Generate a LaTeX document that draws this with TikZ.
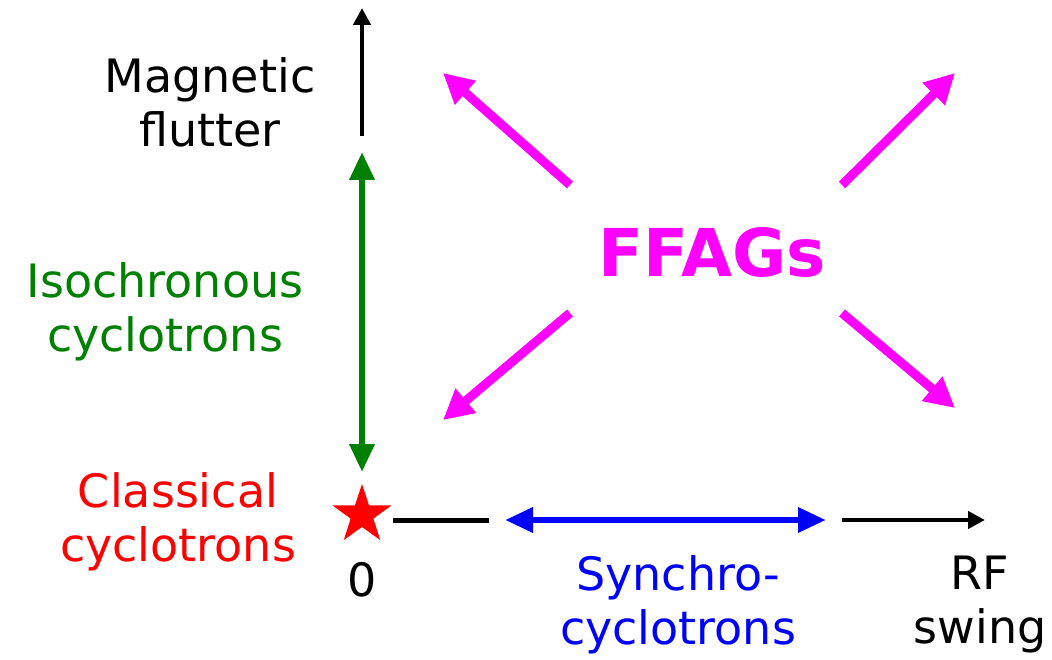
\documentclass[tikz,border=0pt]{standalone}
\usepackage{fontspec}
\setmainfont{DejaVu Sans}
\usetikzlibrary{arrows.meta,shapes.geometric}
\definecolor{dgreen}{RGB}{0,128,0}
\definecolor{mag}{RGB}{255,0,255}
\begin{document}
\begin{tikzpicture}[x=1pt,y=-1pt,
  lbl/.style={font=\fontsize{46}{54}\selectfont, align=center, inner sep=0pt},
  axis/.style={line width=4.5pt, -{Triangle[length=17pt,width=17pt]}},
  seg/.style={line width=5pt},
  dbl/.style={line width=6.5pt, {Triangle[length=28pt,width=24pt]}-{Triangle[length=28pt,width=24pt]}},
  marr/.style={mag, line width=9pt, -{Triangle[length=30pt,width=30pt]}}]
\useasboundingbox (0,0) rectangle (1052,660);
% axes
\coordinate (vb) at (362,136); \coordinate (vt) at (362,8);
\draw[axis] (vb) -- (vt);
\coordinate (gt) at (362,152); \coordinate (gb) at (362,472);
\draw[dbl, dgreen] (gt) -- (gb);
\node[star, star points=5, star point ratio=2.6, fill=red, minimum size=62pt, inner sep=0pt] (star) at (362,515) {};
\coordinate (h1) at (393,520); \coordinate (h2) at (489,520);
\draw[seg] (h1) -- (h2);
\coordinate (b1) at (505,520); \coordinate (b2) at (826,520);
\draw[dbl, blue] (b1) -- (b2);
\coordinate (r1) at (842,520); \coordinate (r2) at (985,520);
\draw[axis] (r1) -- (r2);
% FFAGs
\node[font=\fontsize{66}{70}\selectfont\bfseries, text=mag, inner sep=0pt] (ffag) at (712,252) {FFAGs};
\coordinate (ul0) at (570,185); \coordinate (ul1) at (443,73);
\coordinate (ur0) at (842,185); \coordinate (ur1) at (955,73);
\coordinate (ll0) at (570,313); \coordinate (ll1) at (443,420);
\coordinate (lr0) at (842,313); \coordinate (lr1) at (955,408);
\draw[marr] (ul0) -- (ul1);
\draw[marr] (ur0) -- (ur1);
\draw[marr] (ll0) -- (ll1);
\draw[marr] (lr0) -- (lr1);
% labels
\node[lbl] (mf) at (210,102) {Magnetic\\flutter};
\node[lbl, text=dgreen] (iso) at (165,312) {Isochronous\\cyclotrons};
\node[lbl, text=red] (cls) at (178,522) {Classical\\cyclotrons};
\node[lbl] (zero) at (362,580) {0};
\node[lbl, text=blue] (syn) at (678,605) {Synchro-\\cyclotrons};
\node[lbl] (rf) at (980,605) {RF\\swing};
\end{tikzpicture}
\end{document}
